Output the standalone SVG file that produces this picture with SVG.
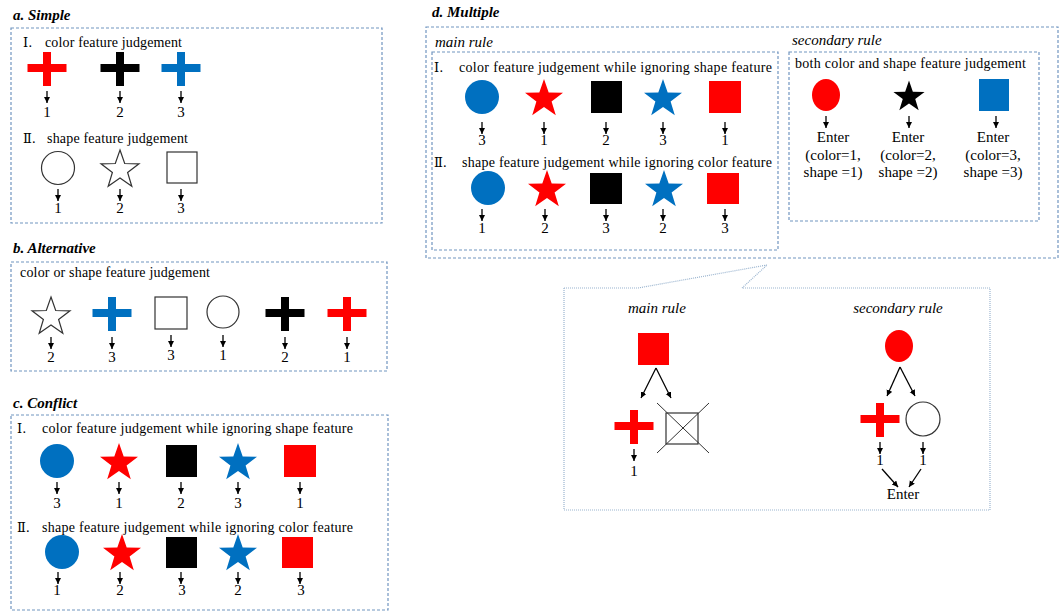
<svg xmlns="http://www.w3.org/2000/svg" width="1062" height="611" viewBox="0 0 1062 611">
<style>
.box{fill:none;stroke:#7195c0;stroke-width:1.2;stroke-dasharray:3 2}
.callout{fill:#fff;stroke:#9ab4cf;stroke-width:1.2;stroke-dasharray:1 1}
.title{font-family:"Liberation Serif",serif;font-size:15px;font-weight:bold;font-style:italic;fill:#000}
.it{font-family:"Liberation Serif",serif;font-size:15px;font-style:italic;fill:#000}
.t{font-family:"Liberation Serif","Noto Sans CJK SC",serif;font-size:14px;fill:#000}
.rn{font-family:"DejaVu Serif","Noto Sans CJK SC",serif;font-size:13px;fill:#000}
.n{font-family:"Liberation Serif",serif;font-size:15px;fill:#000;text-anchor:middle}
.c{text-anchor:middle}
.red{fill:#ff0000}
.blk{fill:#000}
.blu{fill:#0070c0}
.out{fill:#fff;stroke:#333;stroke-width:1.2}
.arr{stroke:#000;stroke-width:1.3;fill:none;marker-end:url(#ah)}
.thin{stroke:#333;stroke-width:1}
</style>
<defs>
<marker id="ah" markerUnits="userSpaceOnUse" markerWidth="7" markerHeight="7" refX="6" refY="3" orient="auto">
<path d="M0,0 L6,3 L0,6 z" fill="#000"/>
</marker>
<path id="star" d="M0,-20 L4.7,-6.5 L19,-6.2 L7.6,2.5 L11.8,16.2 L0,8 L-11.8,16.2 L-7.6,2.5 L-19,-6.2 L-4.7,-6.5 Z"/>
<path id="cross" d="M-4,-17 H4 V-5 H19.5 V3 H4 V17 H-4 V3 H-19.5 V-5 H-4 Z"/>
</defs>
<rect width="1062" height="611" fill="#fff"/>

<!-- a. Simple -->
<g id="sec-a">
<text class="title" x="13" y="20">a. Simple</text>
<rect class="box" x="11" y="28" width="371" height="195"/>
<text class="rn" x="23" y="47">Ⅰ.</text>
<text class="t" x="45" y="47" textLength="137">color feature  judgement</text>
<text class="rn" x="23" y="143">Ⅱ.</text>
<text class="t" x="47" y="143" textLength="141">shape feature  judgement</text>
</g>
<g id="a-red-cross"><use href="#cross" class="red" x="47" y="69"/><text class="n" x="47" y="117">1</text></g>
<g id="a-black-cross"><use href="#cross" class="blk" x="120" y="69"/><text class="n" x="120" y="117">2</text></g>
<g id="a-blue-cross"><use href="#cross" class="blu" x="181" y="69"/><text class="n" x="181" y="117">3</text></g>
<g id="a-circle"><circle class="out" cx="58" cy="168" r="16.5"/><text class="n" x="58" y="213">1</text></g>
<g id="a-star"><use href="#star" class="out" x="120" y="170"/><text class="n" x="120" y="213">2</text></g>
<g id="a-square"><rect class="out" x="167" y="152" width="30" height="31"/><text class="n" x="181" y="213">3</text></g>

<!-- b. Alternative -->
<g id="sec-b">
<text class="title" x="13" y="253">b. Alternative</text>
<rect class="box" x="11" y="262" width="376" height="109"/>
<text class="t" x="20" y="277" textLength="190">color or shape feature  judgement</text>
</g>
<g id="b-star"><use href="#star" class="out" x="51" y="317"/><text class="n" x="51" y="362">2</text></g>
<g id="b-blue-cross"><use href="#cross" class="blu" x="112" y="314"/><text class="n" x="112" y="362">3</text></g>
<g id="b-square"><rect class="out" x="155" y="297" width="32" height="32"/><text class="n" x="171" y="360">3</text></g>
<g id="b-circle"><circle class="out" cx="223" cy="312" r="16"/><text class="n" x="223" y="360">1</text></g>
<g id="b-black-cross"><use href="#cross" class="blk" x="285" y="314"/><text class="n" x="285" y="362">2</text></g>
<g id="b-red-cross"><use href="#cross" class="red" x="347" y="314"/><text class="n" x="347" y="362">1</text></g>

<!-- c. Conflict -->
<g id="sec-c">
<text class="title" x="13" y="408">c. Conflict</text>
<rect class="box" x="11" y="415" width="377" height="195"/>
<text class="rn" x="17" y="433">Ⅰ.</text>
<text class="t" x="42" y="433" textLength="311">color feature judgement  while  ignoring  shape feature</text>
<text class="rn" x="17" y="532">Ⅱ.</text>
<text class="t" x="42" y="532" textLength="311">shape feature  judgement  while  ignoring  color feature</text>
</g>
<g id="c1-circle"><circle class="blu" cx="57" cy="461" r="17"/><text class="n" x="57" y="508">3</text></g>
<g id="c1-star"><use href="#star" class="red" x="119" y="463"/><text class="n" x="119" y="508">1</text></g>
<g id="c1-square"><rect class="blk" x="166" y="445" width="31" height="32"/><text class="n" x="181" y="508">2</text></g>
<g id="c1-bstar"><use href="#star" class="blu" x="238" y="463"/><text class="n" x="238" y="508">3</text></g>
<g id="c1-rsquare"><rect class="red" x="284" y="445" width="32" height="32"/><text class="n" x="300" y="508">1</text></g>
<g id="c2-circle"><circle class="blu" cx="62" cy="552" r="17"/><text class="n" x="57" y="595">1</text></g>
<g id="c2-star"><use href="#star" class="red" x="122" y="554"/><text class="n" x="120" y="595">2</text></g>
<g id="c2-square"><rect class="blk" x="166" y="537" width="31" height="31"/><text class="n" x="182" y="595">3</text></g>
<g id="c2-bstar"><use href="#star" class="blu" x="238" y="554"/><text class="n" x="238" y="595">2</text></g>
<g id="c2-rsquare"><rect class="red" x="282" y="537" width="31" height="31"/><text class="n" x="301" y="595">3</text></g>

<!-- d. Multiple -->
<g id="sec-d">
<text class="title" x="432" y="17">d. Multiple</text>
<rect class="box" x="426" y="27" width="632" height="231"/>
<text class="it" x="435" y="47">main rule</text>
<rect class="box" x="432" y="52" width="346" height="198"/>
<text class="rn" x="434" y="72">Ⅰ.</text>
<text class="t" x="459" y="72" textLength="313">color feature judgement  while  ignoring  shape feature</text>
<text class="rn" x="434" y="167">Ⅱ.</text>
<text class="t" x="462" y="167" textLength="310">shape feature  judgement  while  ignoring  color feature</text>
<text class="it" x="792" y="45">secondary rule</text>
<rect class="box" x="789" y="52" width="250" height="169"/>
<text class="t" x="795" y="68" textLength="231">both color  and  shape feature  judgement</text>
</g>
<g id="d1-circle"><circle class="blu" cx="482" cy="97" r="17"/><text class="n" x="482" y="145">3</text></g>
<g id="d1-star"><use href="#star" class="red" x="544" y="99"/><text class="n" x="544" y="145">1</text></g>
<g id="d1-square"><rect class="blk" x="591" y="81" width="31" height="32"/><text class="n" x="606" y="145">2</text></g>
<g id="d1-bstar"><use href="#star" class="blu" x="663" y="99"/><text class="n" x="663" y="145">3</text></g>
<g id="d1-rsquare"><rect class="red" x="709" y="81" width="32" height="32"/><text class="n" x="725" y="145">1</text></g>
<g id="d2-circle"><circle class="blu" cx="488" cy="188" r="17"/><text class="n" x="482" y="233">1</text></g>
<g id="d2-star"><use href="#star" class="red" x="547" y="190"/><text class="n" x="545" y="233">2</text></g>
<g id="d2-square"><rect class="blk" x="590" y="173" width="32" height="31"/><text class="n" x="606" y="233">3</text></g>
<g id="d2-bstar"><use href="#star" class="blu" x="664" y="190"/><text class="n" x="663" y="233">2</text></g>
<g id="d2-rsquare"><rect class="red" x="707" y="173" width="32" height="31"/><text class="n" x="725" y="233">3</text></g>
<g id="s-red-ellipse"><ellipse class="red" cx="826" cy="95" rx="14" ry="16"/>
<text class="n" x="833" y="142">Enter</text><text class="n" x="833" y="160">(color=1,</text><text class="n" x="833" y="177">shape =1)</text></g>
<g id="s-black-star"><use href="#star" class="blk" transform="translate(909,97) scale(0.82)"/>
<text class="n" x="908" y="142">Enter</text><text class="n" x="908" y="160">(color=2,</text><text class="n" x="908" y="177">shape =2)</text></g>
<g id="s-blue-square"><rect class="blu" x="979" y="79" width="30" height="32"/>
<text class="n" x="993" y="142">Enter</text><text class="n" x="993" y="160">(color=3,</text><text class="n" x="993" y="177">shape =3)</text></g>

<!-- callout -->
<g id="callout">
<path class="callout" d="M564,288 L638,288 L767,265 L742,288 L990,288 L990,510 L564,510 Z"/>
<text class="it c" x="657" y="313">main rule</text>
<text class="it c" x="898" y="313">secondary rule</text>
</g>
<g id="m-red-square"><rect class="red" x="638" y="333" width="31" height="32"/></g>
<g id="m-red-cross"><use href="#cross" class="red" x="634" y="427"/><text class="n" x="634" y="476">1</text></g>
<g id="m-crossed-square"><rect class="out" x="666" y="413" width="32" height="31" fill="none"/>
<line class="thin" x1="657" y1="403" x2="709" y2="453"/><line class="thin" x1="709" y1="403" x2="657" y2="453"/></g>
<g id="s2-red-ellipse"><ellipse class="red" cx="899" cy="346" rx="14" ry="16"/></g>
<g id="s2-red-cross"><use href="#cross" class="red" x="880" y="420"/><text class="n" x="880" y="465">1</text></g>
<g id="s2-circle"><circle class="out" cx="923" cy="419" r="17"/><text class="n" x="923" y="465">1</text></g>
<g id="s2-enter"><text class="n" x="903" y="499">Enter</text></g>

<!-- connectors -->
<g id="connectors">
<line class="arr" x1="47" y1="91" x2="47" y2="103"/>
<line class="arr" x1="120" y1="91" x2="120" y2="103"/>
<line class="arr" x1="181" y1="91" x2="181" y2="103"/>
<line class="arr" x1="58" y1="189" x2="58" y2="201"/>
<line class="arr" x1="120" y1="189" x2="120" y2="201"/>
<line class="arr" x1="181" y1="189" x2="181" y2="201"/>

<line class="arr" x1="51" y1="337" x2="51" y2="349"/>
<line class="arr" x1="112" y1="337" x2="112" y2="349"/>
<line class="arr" x1="171" y1="335" x2="171" y2="347"/>
<line class="arr" x1="223" y1="335" x2="223" y2="347"/>
<line class="arr" x1="285" y1="337" x2="285" y2="349"/>
<line class="arr" x1="347" y1="337" x2="347" y2="349"/>

<line class="arr" x1="57" y1="482" x2="57" y2="494"/>
<line class="arr" x1="119" y1="482" x2="119" y2="494"/>
<line class="arr" x1="181" y1="482" x2="181" y2="494"/>
<line class="arr" x1="238" y1="482" x2="238" y2="494"/>
<line class="arr" x1="300" y1="482" x2="300" y2="494"/>
<line class="arr" x1="58" y1="572" x2="58" y2="584"/>
<line class="arr" x1="120" y1="572" x2="120" y2="584"/>
<line class="arr" x1="181" y1="572" x2="181" y2="584"/>
<line class="arr" x1="238" y1="572" x2="238" y2="584"/>
<line class="arr" x1="300" y1="572" x2="300" y2="584"/>

<line class="arr" x1="482" y1="122" x2="482" y2="134"/>
<line class="arr" x1="544" y1="122" x2="544" y2="134"/>
<line class="arr" x1="606" y1="122" x2="606" y2="134"/>
<line class="arr" x1="663" y1="122" x2="663" y2="134"/>
<line class="arr" x1="725" y1="122" x2="725" y2="134"/>
<line class="arr" x1="482" y1="209" x2="482" y2="221"/>
<line class="arr" x1="545" y1="209" x2="545" y2="221"/>
<line class="arr" x1="606" y1="209" x2="606" y2="221"/>
<line class="arr" x1="663" y1="209" x2="663" y2="221"/>
<line class="arr" x1="725" y1="209" x2="725" y2="221"/>

<line class="arr" x1="826" y1="116" x2="826" y2="128"/>
<line class="arr" x1="909" y1="116" x2="909" y2="128"/>
<line class="arr" x1="996" y1="116" x2="996" y2="128"/>

<line class="arr" x1="656" y1="368" x2="641" y2="398"/>
<line class="arr" x1="656" y1="368" x2="671" y2="398"/>
<line class="arr" x1="634" y1="449" x2="634" y2="461"/>

<line class="arr" x1="900" y1="367" x2="887" y2="396"/>
<line class="arr" x1="900" y1="367" x2="915" y2="396"/>
<line class="arr" x1="880" y1="442" x2="880" y2="454"/>
<line class="arr" x1="923" y1="442" x2="923" y2="454"/>
<line class="arr" x1="882" y1="469" x2="898" y2="487"/>
<line class="arr" x1="921" y1="469" x2="909" y2="487"/>
</g>
</svg>
